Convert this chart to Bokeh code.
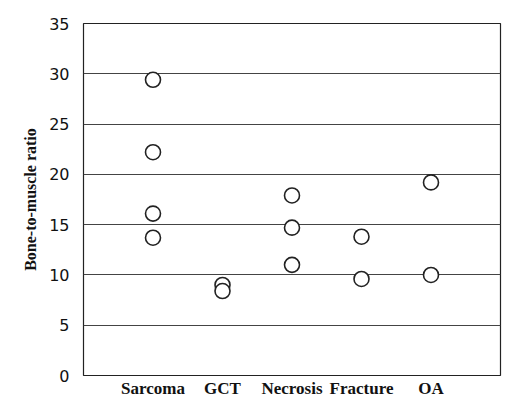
from bokeh.plotting import figure
from bokeh.models import ColumnDataSource, FixedTicker
from bokeh.embed import file_html
from bokeh.resources import INLINE

categories = ["Sarcoma", "GCT", "Necrosis", "Fracture", "OA"]
sarcoma = [29.4, 22.2, 16.1, 13.7]
gct = [9.0, 8.4]
necrosis = [17.9, 14.7, 11.0]
fracture = [13.8, 9.6]
oa = [19.2, 10.0]
y_ticks = [0, 5, 10, 15, 20, 25, 30, 35]

groups = [sarcoma, gct, necrosis, fracture, oa]
xs, ys = [], []
for i, vals in enumerate(groups):
    for v in vals:
        xs.append(i + 1)
        ys.append(v)
src = ColumnDataSource(dict(x=xs, y=ys))

p = figure(width=502, height=400, output_backend="svg", toolbar_location=None,
           x_range=(0, len(categories) + 1), y_range=(0, 35),
           min_border_left=83, min_border_right=2, min_border_top=23, min_border_bottom=19)

p.scatter("x", "y", source=src, marker="circle", size=15, fill_color="white",
          line_color="#222222", line_width=1.6)

p.outline_line_color = "#222222"
p.outline_line_width = 1.2
p.background_fill_color = "white"
p.border_fill_color = "white"

p.xgrid.grid_line_color = None
p.ygrid.grid_line_color = "#444444"
p.ygrid.grid_line_width = 1.1
p.ygrid.ticker = FixedTicker(ticks=y_ticks)

p.yaxis.ticker = FixedTicker(ticks=y_ticks)
p.yaxis.axis_line_color = None
p.yaxis.major_tick_line_color = None
p.yaxis.minor_tick_line_color = None
p.yaxis.major_tick_out = 0
p.yaxis.major_label_standoff = 14
p.yaxis.major_label_text_font = "DejaVu Sans"
p.yaxis.major_label_text_font_size = "16px"
p.yaxis.major_label_text_color = "#111111"
p.yaxis.axis_label = "Bone-to-muscle ratio"
p.yaxis.axis_label_standoff = 7
p.yaxis.axis_label_text_font = "Liberation Serif"
p.yaxis.axis_label_text_font_style = "bold"
p.yaxis.axis_label_text_font_size = "16px"
p.yaxis.axis_label_text_color = "#111111"

p.xaxis.ticker = FixedTicker(ticks=list(range(1, len(categories) + 1)))
p.xaxis.major_label_overrides = {i + 1: c for i, c in enumerate(categories)}
p.xaxis.axis_line_color = None
p.xaxis.major_tick_line_color = None
p.xaxis.minor_tick_line_color = None
p.xaxis.major_tick_out = 0
p.xaxis.major_label_standoff = 3
p.xaxis.major_label_text_font = "Liberation Serif"
p.xaxis.major_label_text_font_style = "bold"
p.xaxis.major_label_text_font_size = "17px"
p.xaxis.major_label_text_color = "#111111"

open("out.html", "w").write(file_html(p, INLINE))
